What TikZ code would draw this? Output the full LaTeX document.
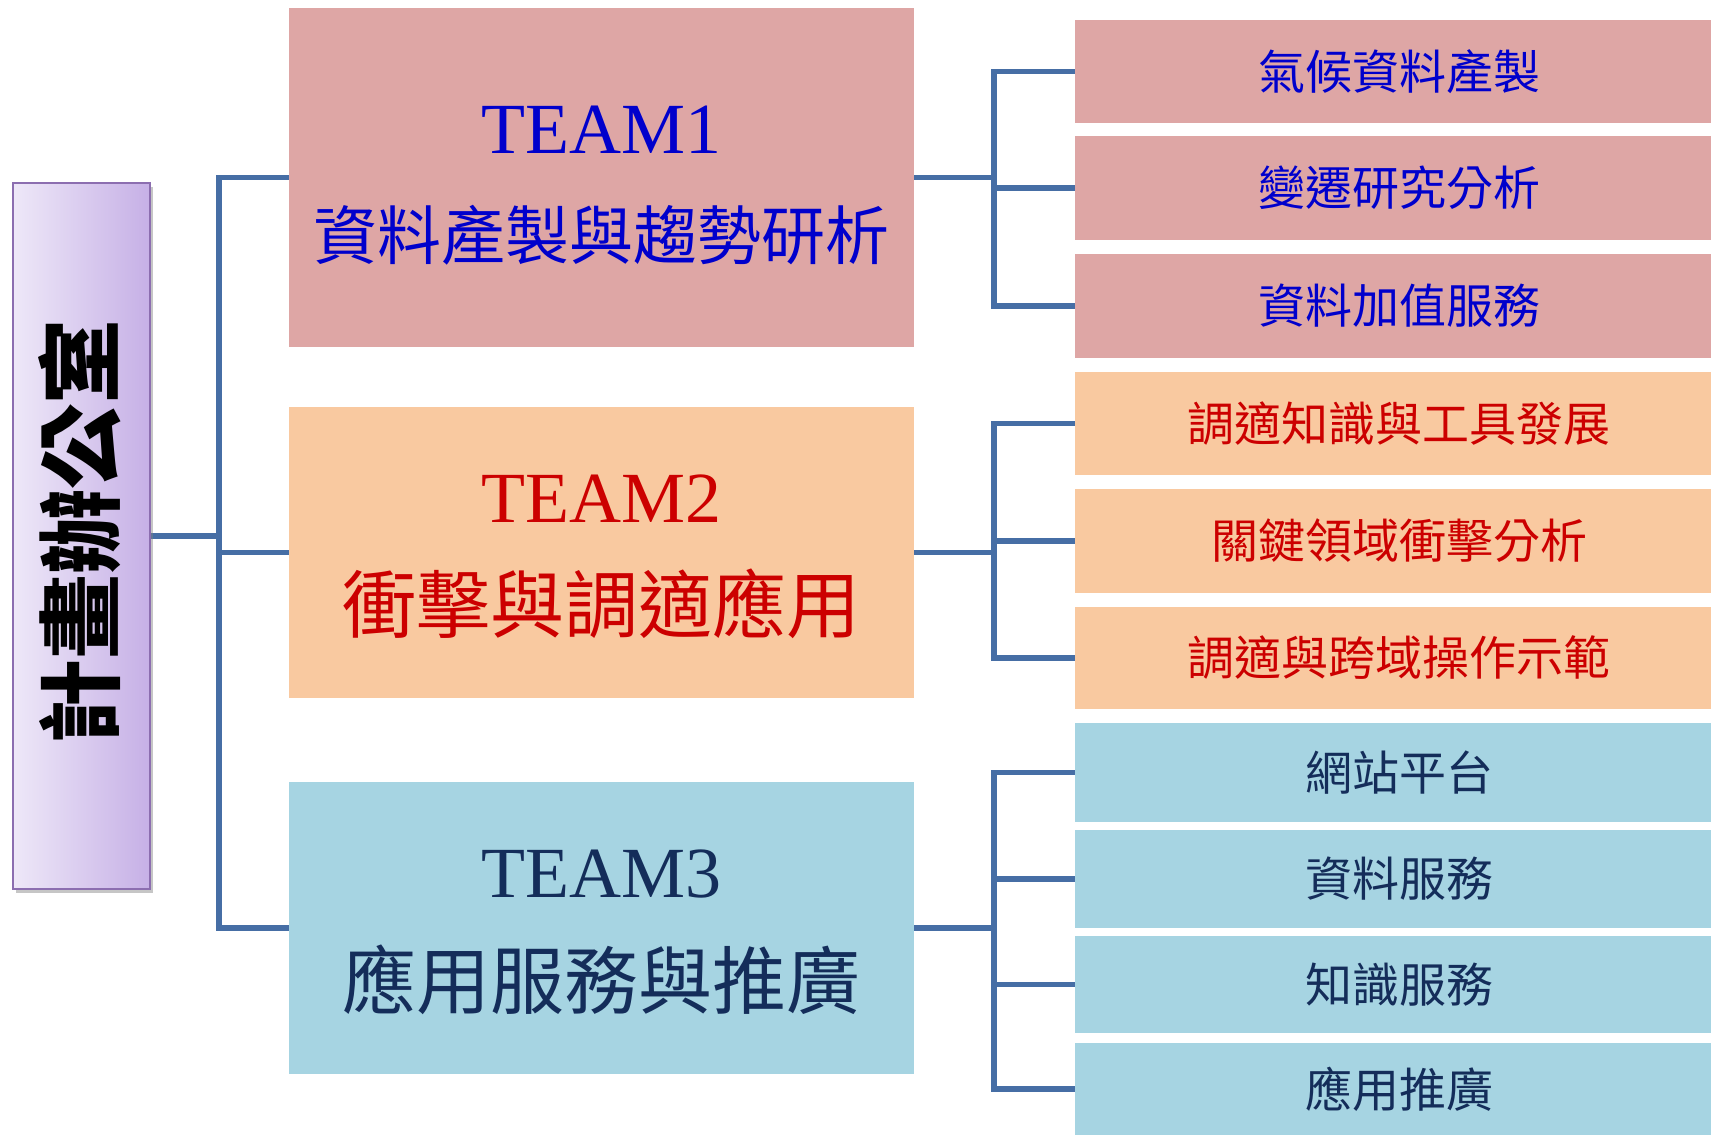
\documentclass[tikz,border=0pt]{standalone}
\usepackage{fontspec}
\setmainfont{Liberation Serif}
\newfontfamily\cjk{Noto Sans CJK TC}
\usetikzlibrary{shadows}
\pgfdeclarelayer{background}
\pgfsetlayers{background,main}
\definecolor{lineblue}{RGB}{70,110,165}
\definecolor{pinkfill}{RGB}{222,166,165}
\definecolor{peachfill}{RGB}{249,201,160}
\definecolor{bluefill}{RGB}{166,212,226}
\definecolor{tblue}{RGB}{0,0,204}
\definecolor{tred}{RGB}{204,0,0}
\definecolor{tnavy}{RGB}{20,45,90}
\definecolor{purL}{RGB}{238,232,248}
\definecolor{purR}{RGB}{198,176,230}
\definecolor{purEdge}{RGB}{140,110,176}
\begin{document}
\begin{tikzpicture}[x=1pt,y=-1pt,
  conn/.style={draw=lineblue,line width=5.5pt,line cap=rect},
  teambox/.style={rectangle,minimum width=625pt,inner sep=0pt,draw=none},
  childbox/.style={rectangle,minimum width=636pt,inner sep=0pt,draw=none,font=\cjk\fontsize{47}{50}\selectfont,execute at begin node=\hspace*{12pt}},
  teamtitle/.style={inner sep=0pt,font=\fontsize{72}{76}\selectfont},
  teamsub/.style={inner sep=0pt,font=\cjk\fontsize{#1}{#1}\selectfont},
]
\useasboundingbox (0,0) rectangle (1711,1135);

% office box
\node[rectangle,minimum width=137pt,minimum height=706pt,inner sep=0pt,
  left color=purL,right color=purR,draw=purEdge,line width=1.5pt,
  drop shadow={shadow xshift=3pt,shadow yshift=-4pt,opacity=0.45}] (pbox) at (81.5,536) {};
\node[rotate=90,inner sep=0pt,font=\cjk\bfseries\fontsize{85}{85}\selectfont] (ptext) at (80,532) {計畫辦公室};

% team boxes
\node[teambox,fill=pinkfill,minimum height=339pt] (t1) at (601.5,177.5) {};
\node[teambox,fill=peachfill,minimum height=291pt] (t2) at (601.5,552.5) {};
\node[teambox,fill=bluefill,minimum height=292pt] (t3) at (601.5,928) {};

\node[teamtitle,text=tblue] (t1a) at (601.5,130) {TEAM1};
\node[teamsub=64,text=tblue] (t1b) at (601.5,235) {資料產製與趨勢研析};
\node[teamtitle,text=tred] (t2a) at (601.5,499) {TEAM2};
\node[teamsub=74,text=tred] (t2b) at (601.5,604) {衝擊與調適應用};
\node[teamtitle,text=tnavy] (t3a) at (601.5,874) {TEAM3};
\node[teamsub=74,text=tnavy] (t3b) at (601.5,980) {應用服務與推廣};

% child boxes
\node[childbox,fill=pinkfill,minimum height=103pt,text=tblue] (c11) at (1393,71.5) {氣候資料產製};
\node[childbox,fill=pinkfill,minimum height=104pt,text=tblue] (c12) at (1393,188) {變遷研究分析};
\node[childbox,fill=pinkfill,minimum height=104pt,text=tblue] (c13) at (1393,306) {資料加值服務};
\node[childbox,fill=peachfill,minimum height=103pt,text=tred] (c21) at (1393,423.5) {調適知識與工具發展};
\node[childbox,fill=peachfill,minimum height=104pt,text=tred] (c22) at (1393,541) {關鍵領域衝擊分析};
\node[childbox,fill=peachfill,minimum height=102pt,text=tred] (c23) at (1393,658) {調適與跨域操作示範};
\node[childbox,fill=bluefill,minimum height=99pt,text=tnavy] (c31) at (1393,772.5) {網站平台};
\node[childbox,fill=bluefill,minimum height=98pt,text=tnavy] (c32) at (1393,879) {資料服務};
\node[childbox,fill=bluefill,minimum height=97pt,text=tnavy] (c33) at (1393,984.5) {知識服務};
\node[childbox,fill=bluefill,minimum height=92pt,text=tnavy] (c34) at (1393,1089) {應用推廣};

\coordinate (trunk) at (219,535);
\coordinate (bus) at (994,0);

\begin{pgfonlayer}{background}
  \draw[conn] (pbox.east) -- (trunk |- pbox.east);
  \draw[conn] (trunk |- t1.west) -- (trunk |- t3.west);
  \draw[conn] (trunk |- t1.west) -- (t1.west);
  \draw[conn] (trunk |- t2.west) -- (t2.west);
  \draw[conn] (trunk |- t3.west) -- (t3.west);
  % team1
  \draw[conn] (t1.east) -- (bus |- t1.east);
  \draw[conn] (bus |- c11.west) -- (bus |- c13.west);
  \draw[conn] (bus |- c11.west) -- (c11.west);
  \draw[conn] (bus |- c12.west) -- (c12.west);
  \draw[conn] (bus |- c13.west) -- (c13.west);
  % team2
  \draw[conn] (t2.east) -- (bus |- t2.east);
  \draw[conn] (bus |- c21.west) -- (bus |- c23.west);
  \draw[conn] (bus |- c21.west) -- (c21.west);
  \draw[conn] (bus |- c22.west) -- (c22.west);
  \draw[conn] (bus |- c23.west) -- (c23.west);
  % team3
  \draw[conn] (t3.east) -- (bus |- t3.east);
  \draw[conn] (bus |- c31.west) -- (bus |- c34.west);
  \draw[conn] (bus |- c31.west) -- (c31.west);
  \draw[conn] (bus |- c32.west) -- (c32.west);
  \draw[conn] (bus |- c33.west) -- (c33.west);
  \draw[conn] (bus |- c34.west) -- (c34.west);
\end{pgfonlayer}
\end{tikzpicture}
\end{document}
